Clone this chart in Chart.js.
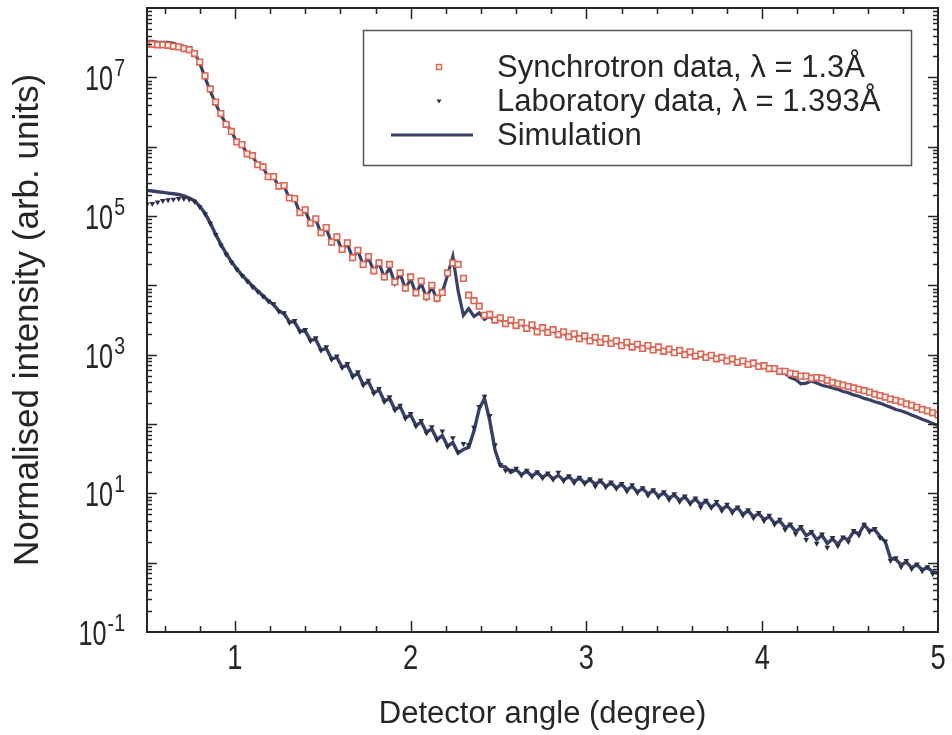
<!DOCTYPE html>
<html>
<head>
<meta charset="utf-8">
<title>Detector angle scan</title>
<script src="https://cdn.jsdelivr.net/npm/chart.js@4.4.1/dist/chart.umd.min.js"></script>
<style>
  html, body { margin: 0; padding: 0; background: #fff; }
  canvas { display: block; }
</style>
</head>
<body>
<canvas id="grafico" width="952" height="735"></canvas>
<script>
// detector angle (degree)
const angle = [
  0.50,0.53,0.56,0.59,0.62,0.65,0.68,0.71,0.74,0.77,
  0.80,0.83,0.86,0.89,0.92,0.95,0.98,1.01,1.04,1.07,
  1.10,1.13,1.16,1.19,1.22,1.25,1.28,1.31,1.34,1.37,
  1.40,1.43,1.46,1.49,1.52,1.55,1.58,1.61,1.64,1.67,
  1.70,1.73,1.76,1.79,1.82,1.85,1.88,1.91,1.94,1.97,
  2.00,2.03,2.06,2.09,2.12,2.15,2.18,2.21,2.24,2.27,
  2.30,2.33,2.36,2.39,2.42,2.45,2.48,2.51,2.54,2.57,
  2.60,2.63,2.66,2.69,2.72,2.75,2.78,2.81,2.84,2.87,
  2.90,2.93,2.96,2.99,3.02,3.05,3.08,3.11,3.14,3.17,
  3.20,3.23,3.26,3.29,3.32,3.35,3.38,3.41,3.44,3.47,
  3.50,3.53,3.56,3.59,3.62,3.65,3.68,3.71,3.74,3.77,
  3.80,3.83,3.86,3.89,3.92,3.95,3.98,4.01,4.04,4.07,
  4.10,4.13,4.16,4.19,4.22,4.25,4.28,4.31,4.34,4.37,
  4.40,4.43,4.46,4.49,4.52,4.55,4.58,4.61,4.64,4.67,
  4.70,4.73,4.76,4.79,4.82,4.85,4.88,4.91,4.94,4.97,
  5.00
];

// synchrotron data, lambda = 1.3 A
const synchData = [
  3.0e7,3.0e7,2.95e7,2.95e7,2.9e7,2.8e7,2.75e7,2.6e7,2.5e7,2.2e7,
  1.66e7,1.05e7,6.8e6,4.4e6,3.0e6,2.1e6,1.66e6,1.17e6,1.07e6,7.9e5,
  7.4e5,5.5e5,5.1e5,3.7e5,3.7e5,2.7e5,2.75e5,1.82e5,1.78e5,1.12e5,
  1.23e5,7.9e4,9.1e4,5.75e4,6.8e4,4.2e4,5.0e4,3.3e4,4.1e4,2.5e4,
  3.2e4,2.0e4,2.6e4,1.62e4,2.1e4,1.32e4,2.0e4,1.12e4,1.51e4,9.1e3,
  1.32e4,7.8e3,1.15e4,6.9e3,1.0e4,6.5e3,7.9e3,1.51e4,2.1e4,2.0e4,
  1.26e4,7.2e3,6.0e3,5.0e3,3.7e3,3.8e3,3.16e3,3.4e3,2.8e3,3.16e3,
  2.63e3,2.9e3,2.4e3,2.7e3,2.14e3,2.45e3,2.09e3,2.29e3,1.95e3,2.14e3,
  1.82e3,2.0e3,1.7e3,1.86e3,1.58e3,1.78e3,1.51e3,1.7e3,1.45e3,1.58e3,
  1.35e3,1.51e3,1.29e3,1.41e3,1.23e3,1.35e3,1.17e3,1.29e3,1.12e3,1.2e3,
  1.07e3,1.15e3,1.0e3,1.1e3,955,1.02e3,912,977,871,912,
  813,871,776,813,724,759,676,692,631,631,
  575,575,537,525,490,490,457,468,457,427,
  398,380,363,347,331,316,302,288,269,257,
  245,229,219,209,195,186,174,162,155,145,
  135
];

// simulation for the synchrotron curve
const synchSim = [
  3.3e7,3.3e7,3.2e7,3.2e7,3.2e7,3.1e7,2.9e7,2.8e7,2.6e7,2.3e7,
  1.6e7,1.0e7,6.3e6,4.2e6,2.9e6,2.1e6,1.7e6,1.15e6,1.07e6,7.8e5,
  7.4e5,5.4e5,5.1e5,3.6e5,3.7e5,2.6e5,2.7e5,1.8e5,1.74e5,1.1e5,
  1.2e5,7.9e4,8.9e4,5.6e4,6.6e4,4.1e4,4.9e4,3.2e4,4.0e4,2.45e4,
  3.16e4,1.95e4,2.5e4,1.6e4,2.1e4,1.3e4,1.8e4,1.07e4,1.48e4,8.9e3,
  1.23e4,7.6e3,1.07e4,6.6e3,9.5e3,6.2e3,7.9e3,1.41e4,2.6e4,8.3e3,
  3.7e3,4.6e3,3.55e3,4.0e3,3.24e3,3.63e3,3.0e3,3.3e3,2.75e3,3.1e3,
  2.57e3,2.8e3,2.34e3,2.63e3,2.19e3,2.4e3,2.04e3,2.24e3,1.91e3,2.09e3,
  1.78e3,1.95e3,1.66e3,1.82e3,1.55e3,1.74e3,1.48e3,1.66e3,1.41e3,1.55e3,
  1.32e3,1.48e3,1.26e3,1.38e3,1.2e3,1.32e3,1.15e3,1.26e3,1.1e3,1.17e3,
  1.02e3,1.12e3,977,1.07e3,933,1000,871,955,832,891,
  794,851,741,794,692,741,646,676,603,617,
  550,537,468,437,380,389,417,389,363,347,
  331,316,295,282,263,251,234,224,209,200,
  186,174,162,155,145,135,126,117,110,102,
  95
];

// laboratory data, lambda = 1.393 A
const labData = [
  1.48e5,1.51e5,1.58e5,1.66e5,1.7e5,1.74e5,1.78e5,1.78e5,1.74e5,1.62e5,
  1.35e5,1.07e5,7.8e4,5.4e4,3.8e4,2.8e4,2.14e4,1.7e4,1.38e4,1.15e4,
  9.5e3,8.1e3,6.9e3,5.9e3,5.4e3,4.2e3,4.0e3,2.9e3,3.1e3,2.14e3,
  2.29e3,1.58e3,1.74e3,1.15e3,1.29e3,851,955,646,741,479,
  562,363,427,275,324,209,245,158,186,120,
  141,93,112,74,91,59,79,47,63,40,
  52,50,89,178,251,132,50,26,21.4,21.4,
  22.9,18.2,21.4,17.4,20.4,16.6,19.5,15.8,20,15.1,
  17.8,14.1,17,13.8,16.2,12.6,15.5,12.3,14.5,11.7,
  13.8,10.7,13.2,10.2,12,9.3,11.2,8.9,10.5,8.1,
  9.8,7.6,9.1,7.1,8.5,6.3,7.9,6.2,7.6,5.6,
  6.9,5.25,6.3,4.8,5.75,4.4,5.25,4.0,4.8,3.55,
  4.2,3.0,3.6,2.6,3.3,2.14,2.8,1.9,2.57,1.66,
  2.3,1.74,2.34,2.0,2.9,2.5,3.55,2.8,3.1,2.3,
  2.04,1.07,1.17,0.87,1.07,0.81,0.95,0.76,0.87,0.69,
  0.72
];

// simulation for the laboratory curve
const labSim = [
  2.34e5,2.29e5,2.24e5,2.19e5,2.14e5,2.09e5,2.04e5,1.95e5,1.82e5,1.66e5,
  1.38e5,1.1e5,7.9e4,5.5e4,3.9e4,2.9e4,2.2e4,1.74e4,1.41e4,1.17e4,
  9.8e3,8.3e3,7.1e3,6.0e3,5.25e3,4.27e3,3.9e3,3.0e3,2.95e3,2.19e3,
  2.19e3,1.62e3,1.66e3,1.17e3,1.23e3,871,912,661,708,490,
  537,372,407,282,309,214,234,162,178,123,
  135,95,107,76,85,60,68,48,54,38,
  43,46,79,166,234,112,42,25,24,20,
  22,18.6,20.9,17.8,20,17,19.1,16.2,18.2,15.5,
  17.4,14.8,16.6,14.1,15.8,13.5,15.1,12.6,14.1,12,
  13.5,11.2,12.6,10.5,11.7,9.8,11,9.1,10.2,8.5,
  9.5,7.9,8.9,7.2,8.3,6.8,7.8,6.3,7.2,5.9,
  6.6,5.5,6.2,5.0,5.6,4.6,5.1,4.2,4.6,3.7,
  4.0,3.2,3.5,2.8,3.2,2.45,2.75,2.14,2.5,1.9,
  2.2,1.82,2.3,2.14,2.8,2.6,3.5,2.9,3.0,2.4,
  2.0,1.15,1.12,0.93,1.02,0.85,0.93,0.79,0.85,0.74,
  0.71
];

// tick labels
const xTickLabels = [1, 2, 3, 4, 5];
const yTickExponents = [-1, 1, 3, 5, 7];
const legendLabels = ['Synchrotron data, \u03bb = 1.3\u00c5', 'Laboratory data, \u03bb = 1.393\u00c5', 'Simulation'];

const FONT = '"Liberation Sans", Arial, Helvetica, sans-serif';
const INK = '#262626';
const RED = '#dc6655';
const NAVY = '#384065';
const DARK = '#2a2f46';

const pares = (ys) => angle.map((x, i) => ({ x: x, y: ys[i] }));

// narrow text, the tick labels in the figure are condensed
function textoEstreito(ctx, text, x, y, size, squeeze, align) {
  ctx.save();
  ctx.font = size + 'px ' + FONT;
  const w = ctx.measureText(text).width * squeeze;
  let x0 = x;
  if (align === 'center') x0 = x - w / 2;
  if (align === 'right') x0 = x - w;
  ctx.translate(x0, y);
  ctx.scale(squeeze, 1);
  ctx.textAlign = 'left';
  ctx.textBaseline = 'alphabetic';
  ctx.fillText(text, 0, 0);
  ctx.restore();
  return w;
}

// frame, inward ticks, tick labels and the boxed legend
const moldura = {
  id: 'moldura',
  afterDatasetsDraw(chart) {
    const { ctx, chartArea: a, scales: { x, y } } = chart;
    ctx.save();
    ctx.strokeStyle = INK;
    ctx.fillStyle = INK;

    ctx.lineWidth = 1.5;
    ctx.beginPath();
    for (let k = 3; k <= 24; k++) {
      const px = Math.round(x.getPixelForValue(k / 5)) + 0.5;
      const len = k % 5 === 0 ? 11 : 6;
      ctx.moveTo(px, a.bottom); ctx.lineTo(px, a.bottom - len);
      ctx.moveTo(px, a.top); ctx.lineTo(px, a.top + len);
    }
    for (let e = -1; e <= 7; e++) {
      for (let m = 1; m <= 9; m++) {
        const v = m * Math.pow(10, e);
        if (v <= y.min * 1.0001 || v >= y.max * 0.9999) continue;
        const py = Math.round(y.getPixelForValue(v)) + 0.5;
        const len = m === 1 ? 10 : 5;
        ctx.moveTo(a.left, py); ctx.lineTo(a.left + len, py);
        ctx.moveTo(a.right, py); ctx.lineTo(a.right - len, py);
      }
    }
    ctx.stroke();

    ctx.lineWidth = 2;
    ctx.strokeRect(a.left, a.top, a.right - a.left, a.bottom - a.top);

    xTickLabels.forEach((v) => {
      textoEstreito(ctx, String(v), x.getPixelForValue(v), a.bottom + 37, 35, 0.78, 'center');
    });
    yTickExponents.forEach((e) => {
      const py = y.getPixelForValue(Math.pow(10, e));
      const right = a.left - 22;
      const ew = textoEstreito(ctx, String(e), right, py - 1, 23, 0.85, 'right');
      textoEstreito(ctx, '10', right - ew - 1, py + 13, 35, 0.72, 'right');
    });

    // legend box
    ctx.lineWidth = 1.5;
    ctx.strokeStyle = '#555';
    ctx.strokeRect(363.5, 30.5, 548, 135);
    const rows = [67, 101, 135];
    ctx.font = '31px ' + FONT;
    ctx.textAlign = 'left';
    ctx.textBaseline = 'middle';
    ctx.fillStyle = INK;
    legendLabels.forEach((t, i) => ctx.fillText(t, 497, rows[i] + 1));

    ctx.lineWidth = 1.4;
    ctx.strokeStyle = RED;
    ctx.fillStyle = '#fdf1ee';
    ctx.fillRect(436.5, rows[0] - 2.5, 5, 5);
    ctx.strokeRect(436.5, rows[0] - 2.5, 5, 5);

    ctx.fillStyle = DARK;
    ctx.beginPath();
    ctx.moveTo(436.5, rows[1] - 1.5);
    ctx.lineTo(441.5, rows[1] - 1.5);
    ctx.lineTo(439, rows[1] + 2.5);
    ctx.closePath();
    ctx.fill();

    ctx.strokeStyle = NAVY;
    ctx.lineWidth = 3;
    ctx.beginPath();
    ctx.moveTo(391, rows[2]);
    ctx.lineTo(473, rows[2]);
    ctx.stroke();
    ctx.restore();
  }
};

new Chart(document.getElementById('grafico'), {
  type: 'scatter',
  data: {
    datasets: [
      {
        label: legendLabels[0],
        data: pares(synchData),
        showLine: false,
        pointStyle: 'rect',
        pointRadius: 4,
        pointBorderWidth: 1.6,
        pointBorderColor: RED,
        pointBackgroundColor: '#fdf1ee'
      },
      {
        label: 'Simulation',
        data: pares(synchSim),
        showLine: true,
        borderColor: NAVY,
        borderWidth: 3.2,
        pointRadius: 0,
        tension: 0
      },
      {
        label: legendLabels[1],
        data: pares(labData),
        showLine: false,
        pointStyle: 'triangle',
        pointRotation: 180,
        pointRadius: 3.3,
        pointBorderWidth: 0,
        pointBackgroundColor: DARK
      },
      {
        label: 'Simulation',
        data: pares(labSim),
        showLine: true,
        borderColor: NAVY,
        borderWidth: 3.4,
        pointRadius: 0,
        tension: 0
      }
    ]
  },
  options: {
    responsive: false,
    animation: false,
    layout: { padding: { top: 8, right: 14, left: 0, bottom: 0 } },
    plugins: { legend: { display: false }, tooltip: { enabled: false } },
    scales: {
      x: {
        type: 'linear',
        min: 0.5,
        max: 5,
        ticks: { display: false },
        grid: { display: false },
        border: { display: false },
        title: {
          display: true,
          text: 'Detector angle (degree)',
          color: INK,
          font: { family: FONT, size: 31, lineHeight: 1.2 },
          padding: { top: 0, bottom: 2 }
        },
        afterFit(s) { s.height = 103; }
      },
      y: {
        type: 'logarithmic',
        min: 0.1,
        max: 1e8,
        ticks: { display: false },
        grid: { display: false },
        border: { display: false },
        title: {
          display: true,
          text: 'Normalised intensity (arb. units)',
          color: INK,
          font: { family: FONT, size: 35, lineHeight: 1.2 },
          padding: { top: 7, bottom: 0 }
        },
        afterFit(s) { s.width = 147; }
      }
    }
  },
  plugins: [moldura]
});
</script>
</body>
</html>
